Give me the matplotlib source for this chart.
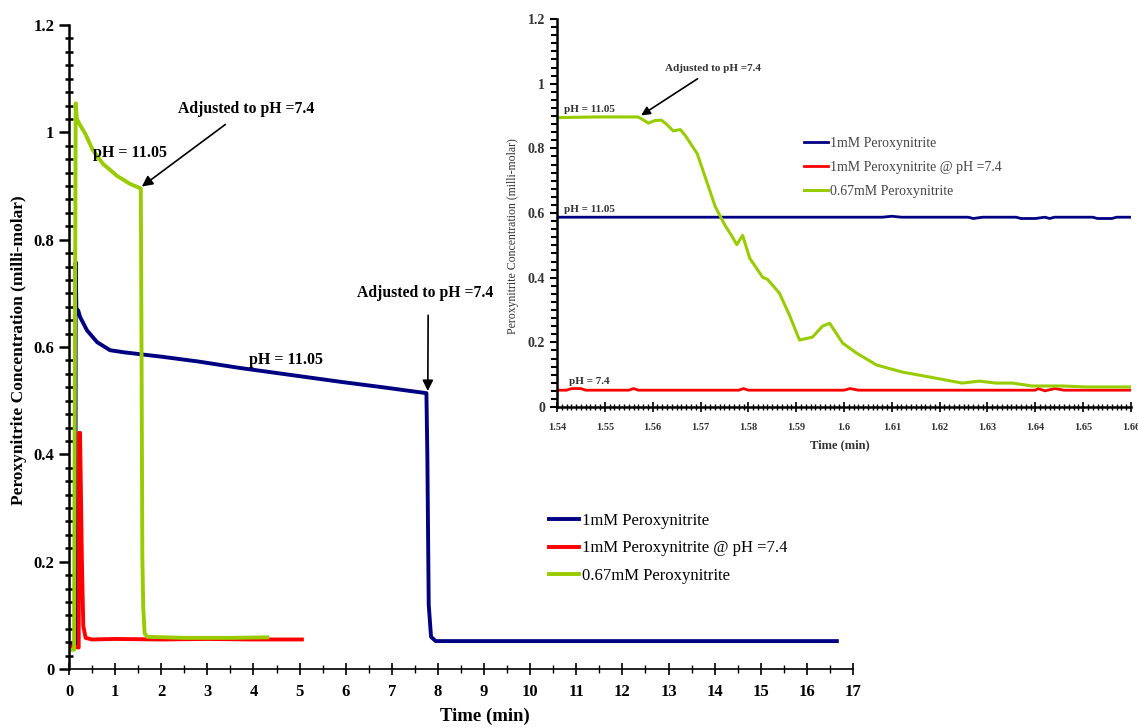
import matplotlib
matplotlib.use('Agg')
import matplotlib.pyplot as plt

plt.rcParams['font.family'] = ['Liberation Serif', 'DejaVu Serif']

# main trace (time in min, concentration in milli-molar)
blue_t = [0, 0.14, 0.145, 0.16, 0.2, 0.24, 0.39, 0.61, 0.89, 1.2, 1.5, 2.0, 2.8, 3.7,
          4.8, 5.9, 6.8, 7.75, 7.77, 7.8, 7.85, 7.95, 9, 10.5, 12, 13.5, 15, 16.65]
blue_c = [0.045, 0.045, 0.758, 0.67, 0.668, 0.656, 0.631, 0.609, 0.594, 0.590, 0.587, 0.582,
          0.573, 0.561, 0.548, 0.535, 0.525, 0.514, 0.40, 0.12, 0.06, 0.052, 0.052, 0.052,
          0.052, 0.052, 0.052, 0.052]

red_t = [0, 0.21, 0.22, 0.24, 0.28, 0.31, 0.36, 0.5, 1, 2, 3, 4, 5.05]
red_c = [0.042, 0.040, 0.44, 0.44, 0.2, 0.08, 0.058, 0.055, 0.056, 0.055, 0.056, 0.055, 0.055]

green_t = [0, 0.11, 0.145, 0.17, 0.25, 0.35, 0.52, 0.74, 1.04, 1.32, 1.54, 1.557, 1.575,
           1.59, 1.61, 1.64, 1.7, 2.5, 3.5, 4.3]
green_c = [0.036, 0.036, 1.054, 1.025, 1.012, 0.998, 0.966, 0.941, 0.919, 0.904, 0.896, 0.895,
           0.55, 0.21, 0.115, 0.066, 0.06, 0.058, 0.058, 0.059]

# inset trace (zoom on the pH adjustment)
in_green_t = [1.540, 1.548, 1.557, 1.5591, 1.5605, 1.5618, 1.5628, 1.5643, 1.5658, 1.5668,
              1.5693, 1.5731, 1.5752, 1.5765, 1.5776, 1.5788, 1.5803, 1.5830, 1.5840, 1.5865,
              1.5886, 1.5907, 1.5934, 1.5955, 1.5970, 1.5997, 1.6026, 1.6068, 1.6122, 1.6178,
              1.6247, 1.6283, 1.6318, 1.6352, 1.6393, 1.6456, 1.6507, 1.66]
in_green_c = [0.895, 0.897, 0.897, 0.878, 0.886, 0.887, 0.876, 0.854, 0.858, 0.84,
              0.784, 0.619, 0.56, 0.53, 0.502, 0.531, 0.46, 0.401, 0.395, 0.352,
              0.284, 0.207, 0.216, 0.250, 0.259, 0.198, 0.167, 0.13, 0.108, 0.093,
              0.074, 0.08, 0.074, 0.074, 0.065, 0.065, 0.062, 0.062]

in_blue_t = [1.54, 1.608, 1.61, 1.612, 1.626, 1.627, 1.629, 1.636, 1.637, 1.64, 1.642,
             1.643, 1.644, 1.652, 1.653, 1.656, 1.657, 1.66]
in_blue_c = [0.587, 0.587, 0.590, 0.587, 0.587, 0.583, 0.587, 0.587, 0.583, 0.583, 0.587,
             0.583, 0.587, 0.587, 0.583, 0.583, 0.587, 0.587]

in_red_t = [1.54, 1.542, 1.543, 1.545, 1.546, 1.555, 1.556, 1.557, 1.578, 1.579, 1.580,
            1.600, 1.6013, 1.603, 1.640, 1.6406, 1.642, 1.6441, 1.646, 1.66]
in_red_c = [0.052, 0.052, 0.057, 0.057, 0.052, 0.052, 0.057, 0.052, 0.052, 0.057, 0.052,
            0.052, 0.057, 0.052, 0.052, 0.057, 0.050, 0.057, 0.052, 0.052]

labels = ['1mM Peroxynitrite', '1mM Peroxynitrite @ pH =7.4', '0.67mM Peroxynitrite']
yticks = [0, 0.2, 0.4, 0.6, 0.8, 1.0, 1.2]
ytick_labels = ['0', '0.2', '0.4', '0.6', '0.8', '1', '1.2']
in_xticks = [1.54, 1.55, 1.56, 1.57, 1.58, 1.59, 1.60, 1.61, 1.62, 1.63, 1.64, 1.65, 1.66]
in_xtick_labels = ['1.54', '1.55', '1.56', '1.57', '1.58', '1.59', '1.6', '1.61', '1.62',
                   '1.63', '1.64', '1.65', '1.66']

BLUE = '#000080'
RED = '#ff0000'
GREEN = '#99cc00'

fig = plt.figure(figsize=(11.38, 7.28), dpi=100)

# ---- main axes ----
ax = fig.add_axes([69/1138, 1-669/728, (853-69)/1138, (669-25)/728])
l1, = ax.plot(blue_t, blue_c, color=BLUE, lw=2.8, label=labels[0])
l2, = ax.plot(red_t, red_c, color=RED, lw=2.8, label=labels[1])
l3, = ax.plot(green_t, green_c, color=GREEN, lw=2.8, label=labels[2])
ax.set_xlim(0, 17)
ax.set_ylim(0, 1.2)
ax.spines['top'].set_visible(False)
ax.spines['right'].set_visible(False)
ax.spines['left'].set_linewidth(1.8)
ax.spines['bottom'].set_linewidth(1.2)
ax.set_xticks(range(0, 18))
ax.set_xticks([i + 0.5 for i in range(17)], minor=True)
ax.set_yticks(yticks)
ax.set_yticklabels(ytick_labels)
ax.set_yticks([i * 0.025 for i in range(49)], minor=True)
ax.tick_params(axis='x', which='major', direction='inout', length=9, width=1.2,
               labelsize=12, pad=6)
ax.tick_params(axis='x', which='minor', direction='inout', length=6, width=1)
ax.tick_params(axis='y', which='major', direction='out', length=7, width=1.8, labelsize=12)
ax.tick_params(axis='y', which='minor', direction='inout', length=6, width=1.8)
for t in ax.get_xticklabels() + ax.get_yticklabels():
    t.set_fontweight('bold')
ax.set_xlabel('Time (min)', fontsize=13.5, fontweight='bold')
ax.set_ylabel('Peroxynitrite Concentration (milli-molar)', fontsize=12.5, fontweight='bold')
ax.xaxis.set_label_coords(0.53, -0.060)
ax.yaxis.set_label_coords(-0.054, 0.495)

arrow = dict(arrowstyle='-|>', color='black', lw=1.2, mutation_scale=16)
ax.annotate('Adjusted to pH =7.4', xy=(1.58, 0.899), xytext=(3.85, 1.044),
            fontsize=11.3, fontweight='bold', ha='center', va='center',
            arrowprops=dict(arrow, shrinkA=6, shrinkB=0))
ax.annotate('Adjusted to pH =7.4', xy=(7.78, 0.518), xytext=(7.73, 0.70),
            fontsize=11.3, fontweight='bold', ha='center', va='center',
            arrowprops=dict(arrow, shrinkA=8, shrinkB=0, relpos=(0.52, 0)))
ax.text(1.32, 0.962, 'pH = 11.05', fontsize=11.5, fontweight='bold', ha='center', va='center')
ax.text(4.71, 0.576, 'pH = 11.05', fontsize=11.5, fontweight='bold', ha='center', va='center')

fig.legend(handles=[l1, l2, l3], loc='upper left', bbox_to_anchor=(549/1138, 1-513/728),
           frameon=False, fontsize=12, handlelength=1.8, handletextpad=0.15,
           labelspacing=0.68, borderpad=0, borderaxespad=0)

# ---- inset axes ----
ins = fig.add_axes([557/1138, 1-407/728, (1131-557)/1138, (407-19)/728])
ins.patch.set_alpha(0)
m1, = ins.plot(in_blue_t, in_blue_c, color=BLUE, lw=2.0, label=labels[0])
m2, = ins.plot(in_red_t, in_red_c, color=RED, lw=2.0, label=labels[1])
m3, = ins.plot(in_green_t, in_green_c, color=GREEN, lw=2.2, label=labels[2])
ins.set_xlim(1.54, 1.66)
ins.set_ylim(0, 1.2)
ins.spines['top'].set_visible(False)
ins.spines['right'].set_visible(False)
ins.spines['left'].set_linewidth(1.8)
ins.spines['bottom'].set_linewidth(1.8)
ins.set_xticks(in_xticks)
ins.set_xticklabels(in_xtick_labels)
ins.set_xticks([1.54 + i * 0.001 for i in range(121)], minor=True)
ins.set_yticks(yticks)
ins.set_yticklabels(ytick_labels)
ins.set_yticks([i * 0.025 for i in range(49)], minor=True)
ins.tick_params(axis='x', which='major', direction='inout', length=7, width=1.2,
                labelsize=7.5, pad=8)
ins.tick_params(axis='x', which='minor', direction='inout', length=4, width=1)
ins.tick_params(axis='y', which='major', direction='out', length=5, width=1.5, labelsize=10)
ins.tick_params(axis='y', which='minor', direction='out', length=4, width=1.5)
for t in ins.get_xticklabels() + ins.get_yticklabels():
    t.set_fontweight('bold')
    t.set_color('#333333')
ins.set_xlabel('Time (min)', fontsize=9, fontweight='bold', color='#333333')
ins.set_ylabel('Peroxynitrite Concentration (milli-molar)', fontsize=8.5, color='#333333')
ins.xaxis.set_label_coords(0.493, -0.082)
ins.yaxis.set_label_coords(-0.066, 0.44)

ins.annotate('Adjusted to pH =7.4', xy=(1.5576, 0.902), xytext=(1.5727, 1.047),
             fontsize=8, fontweight='bold', ha='center', va='center', color='#333333',
             arrowprops=dict(arrowstyle='-|>', color='black', lw=1.2, mutation_scale=13,
                             shrinkA=4, shrinkB=0))
ins.text(1.5467, 0.92, 'pH = 11.05', fontsize=8, fontweight='bold', ha='center',
         va='center', color='#333333')
ins.text(1.5467, 0.61, 'pH = 11.05', fontsize=8, fontweight='bold', ha='center',
         va='center', color='#333333')
ins.text(1.5467, 0.08, 'pH = 7.4', fontsize=8, fontweight='bold', ha='center',
         va='center', color='#333333')

fig.legend(handles=[m1, m2, m3], loc='upper left', bbox_to_anchor=(804/1138, 1-137/728),
           frameon=False, fontsize=10, handlelength=1.7, handletextpad=0.15,
           labelspacing=0.8, borderpad=0, borderaxespad=0, labelcolor='#444444')

fig.savefig('out.png', dpi=100)
